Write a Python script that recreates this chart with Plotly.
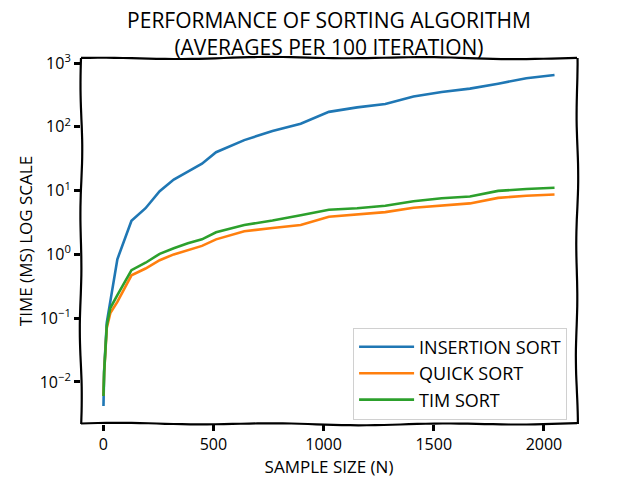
import numpy as np
import plotly.graph_objs as go

# sample sizes (n) and average run times in ms
sample_size = [1, 4, 16, 32, 64, 128, 192, 256, 320, 384, 448, 512, 640, 768,
               896, 1024, 1152, 1280, 1408, 1536, 1664, 1792, 1920, 2048]
insertion_ms = [0.0042, 0.015, 0.085, 0.19, 0.84, 3.37, 5.3, 9.8, 14.9, 19.9,
                26.5, 40, 62, 86, 112, 172, 202, 229, 299, 352, 398, 476, 579, 650]
quick_ms = [0.006, 0.014, 0.07, 0.12, 0.18, 0.47, 0.60, 0.81, 1.0, 1.16, 1.36,
            1.72, 2.3, 2.6, 2.89, 3.9, 4.2, 4.6, 5.4, 5.9, 6.3, 7.7, 8.3, 8.7]
tim_ms = [0.006, 0.014, 0.076, 0.144, 0.23, 0.565, 0.74, 1.02, 1.25, 1.49,
          1.72, 2.22, 2.89, 3.39, 4.1, 5.0, 5.3, 5.8, 6.8, 7.6, 8.1, 9.9, 10.6, 11.1]

names = ['INSERTION SORT', 'QUICK SORT', 'TIM SORT']
colors = ['#1f77b4', '#ff7f0e', '#2ca02c']

x_ticks = [0, 500, 1000, 1500, 2000]
y_ticks = [0.01, 0.1, 1, 10, 100, 1000]
y_tick_text = ['10<sup>−2</sup>', '10<sup>−1</sup>', '10<sup>0</sup>',
               '10<sup>1</sup>', '10<sup>2</sup>', '10<sup>3</sup>']

FONT = 'Open Sans'

traces = []
for ys, name, col in zip([insertion_ms, quick_ms, tim_ms], names, colors):
    traces.append(go.Scatter(x=sample_size, y=ys, name=name, mode='lines',
                             line=dict(color=col, width=2.6)))


# hand-drawn looking frame around the plot area (paper coords)
def wobbly(x0, y0, x1, y1, amp, phase):
    t = np.linspace(0, 1, 60)
    xs = x0 + (x1 - x0) * t
    ys = y0 + (y1 - y0) * t
    w = amp * (np.sin(t * 19 + phase) * 0.6 + np.sin(t * 7 + phase * 2) * 0.4)
    if x0 == x1:
        xs = xs + w
    else:
        ys = ys + w
    return 'M ' + ' L '.join('%.4f,%.4f' % (a, b) for a, b in zip(xs, ys))


shapes = []
ax, ay = 0.0025, 0.0035
for (x0, y0, x1, y1), ph in zip([(0, 0, 1, 0), (1, 0, 1, 1), (1, 1, 0, 1), (0, 1, 0, 0)],
                                [0.3, 1.4, 2.2, 3.1]):
    amp = ay if y0 == y1 else ax
    shapes.append(dict(type='path', xref='paper', yref='paper',
                       path=wobbly(x0, y0, x1, y1, amp, ph),
                       line=dict(color='black', width=2.2)))

layout = go.Layout(
    width=640, height=480,
    paper_bgcolor='white', plot_bgcolor='white',
    margin=dict(l=81, r=63, t=58, b=52),
    font=dict(family=FONT, color='black'),
    title=dict(text='PERFORMANCE OF SORTING ALGORITHM<br>(AVERAGES PER 100 ITERATION)',
               x=0.514, xanchor='center', y=0.942, yanchor='middle',
               font=dict(size=21, family=FONT)),
    xaxis=dict(title=dict(text='SAMPLE SIZE (N)', font=dict(size=17), standoff=1),
               range=[-101, 2150], tickvals=x_ticks, ticks='outside', ticklen=6,
               tickwidth=2.5, tickcolor='black', showgrid=False, zeroline=False,
               showline=False, tickfont=dict(size=16)),
    yaxis=dict(title=dict(text='TIME (MS) LOG SCALE', font=dict(size=17), standoff=2),
               type='log', range=[-2.66, 3.08], tickvals=y_ticks, ticktext=y_tick_text,
               ticks='outside', ticklen=6, tickwidth=2.5, tickcolor='black',
               showgrid=False, zeroline=False, showline=False, tickfont=dict(size=16)),
    legend=dict(x=0.98, y=0.012, xanchor='right', yanchor='bottom',
                bgcolor='rgba(255,255,255,0.8)', bordercolor='#d0d0d0', borderwidth=1,
                font=dict(size=18), itemwidth=55),
    shapes=shapes,
    showlegend=True,
)

fig = go.Figure(data=traces, layout=layout)
fig.write_html("out.html", config={'displayModeBar': False},
               post_script="document.body.style.margin='0px';")
